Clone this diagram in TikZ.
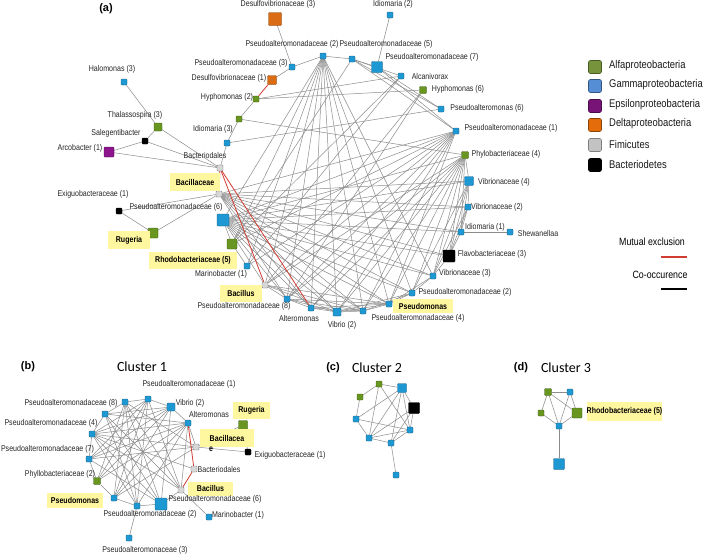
\documentclass[tikz,border=0pt]{standalone}
\usepackage{fontspec}
\setmainfont{Liberation Sans}
\newfontfamily\nf{Liberation Sans}[FakeStretch=0.84]
\newfontfamily\cf{Carlito}
\pgfdeclarelayer{bg}
\pgfsetlayers{bg,main}
\definecolor{cblue}{RGB}{30,152,210}
\definecolor{cbluedk}{RGB}{25,95,135}
\definecolor{cgreen}{RGB}{104,150,32}
\definecolor{cgreendk}{RGB}{60,90,20}
\definecolor{corange}{RGB}{218,108,22}
\definecolor{cpurple}{RGB}{140,20,140}
\definecolor{cgrey}{RGB}{215,215,215}
\definecolor{cedge}{RGB}{140,140,140}
\definecolor{cred}{RGB}{210,60,50}
\definecolor{cyel}{RGB}{255,246,160}
\definecolor{lgreen}{RGB}{119,147,60}
\definecolor{lblue}{RGB}{85,142,213}
\definecolor{lpurple}{RGB}{120,20,120}
\definecolor{lorange}{RGB}{228,108,10}
\definecolor{lgrey}{RGB}{195,195,195}
\tikzset{
 nb/.style={rectangle, inner sep=0pt, minimum size=6pt, rounded corners=0.8pt, line width=0.4pt},
 nblue/.style={nb, fill=cblue, draw=cbluedk},
 ngreen/.style={nb, fill=cgreen, draw=cgreendk},
 norange/.style={nb, fill=corange, draw=corange!60!black},
 npurple/.style={nb, fill=cpurple, draw=cpurple!60!black},
 ngrey/.style={nb, fill=cgrey, draw=black!55},
 nblack/.style={nb, fill=black, draw=black},
 edg/.style={draw=cedge, line width=0.5pt},
 redg/.style={draw=cred, line width=0.8pt},
 lab/.style={font=\nf\fontsize{8.4}{9}\selectfont, inner sep=0pt, text=black!85},
 ybox/.style={fill=cyel, font=\nf\bfseries\fontsize{8.4}{9}\selectfont, inner sep=0pt, text=black},
 leg/.style={rectangle, minimum size=13pt, inner sep=0pt, rounded corners=2pt, line width=0.6pt},
 legt/.style={font=\nf\fontsize{11.2}{13}\selectfont, inner sep=0pt, anchor=west, text=black!90},
 ptitle/.style={font=\bfseries\fontsize{11}{12}\selectfont, inner sep=0pt},
 ctitle/.style={font=\cf\fontsize{14}{15}\selectfont, inner sep=0pt},
}
\begin{document}
\begin{tikzpicture}[x=1pt,y=-1pt]
\useasboundingbox (0,0) rectangle (709,554);
\begin{pgfonlayer}{bg}
\fill[white] (0,0) rectangle (709,554);
\end{pgfonlayer}

% ---------------- panel (a) nodes ----------------
\node[ptitle] (ta) at (106,9) {(a)};
\node[nblue] (aHal) at (124,82) {};
\node[ngreen, minimum size=8pt] (aTha) at (158,127) {};
\node[nblack] (aSal) at (145,141) {};
\node[npurple, minimum size=10pt] (aArc) at (109,152) {};
\node[ngrey] (aBacd) at (220,168) {};
\node[nblue] (aIdi3) at (227,143) {};
\node[ngreen] (aGr) at (239,119) {};
\node[ngreen] (aHy2) at (256,99) {};
\node[norange, minimum size=9pt] (aDe1) at (272,80) {};
\node[nblue] (aP3) at (292,67) {};
\node[norange, minimum size=13pt] (aDe3) at (275,19) {};
\node[nblue] (aP2) at (323,56) {};
\node[nblue] (aN5) at (352,59) {};
\node[nblue, minimum size=11pt] (aP7) at (377,67) {};
\node[nblue] (aIdi2) at (390,15) {};
\node[nblue] (aAlc) at (401,76) {};
\node[ngreen, minimum size=7pt] (aHy6) at (423,90) {};
\node[nblue] (aPs6) at (441,109) {};
\node[nblue] (aP1) at (456,131) {};
\node[ngreen, minimum size=7pt] (aPhy) at (465,155) {};
\node[nblue, minimum size=9pt] (aVi4) at (469,181) {};
\node[nblue] (aVi2) at (468,207) {};
\node[nblue] (aIdi1) at (461,232) {};
\node[nblue] (aShe) at (510,232) {};
\node[nblack, minimum size=12pt] (aFla) at (449,256) {};
\node[nblue] (aVi3) at (433,276) {};
\node[nblue] (aPa2) at (412,293) {};
\node[nblue] (aPsm) at (389,304) {};
\node[nblue] (aN4) at (363,311) {};
\node[nblue, minimum size=8pt] (aVib) at (337,312) {};
\node[nblue] (aAlt) at (311,308) {};
\node[nblue] (aP8) at (287,299) {};
\node[ngrey] (aBac) at (265,285) {};
\node[nblue] (aMar) at (247,266) {};
\node[ngreen, minimum size=10pt] (aRho) at (232,244) {};
\node[nblue, minimum size=12pt] (aP6) at (223,220) {};
\node[ngrey] (aBcc) at (219,194) {};
\node[nblack] (aExi) at (119,211) {};
\node[ngreen, minimum size=10pt] (aRug) at (153,233) {};

% labels (a)
\node[lab] (laHal) at (112,69) {Halomonas (3)};
\node[lab] (laTha) at (135,115) {Thalassospira (3)};
\node[lab] (laSal) at (116,133) {Salegentibacter};
\node[lab] (laArc) at (80,148) {Arcobacter (1)};
\node[lab] (laBacd) at (205,155) {Bacteriodales};
\node[lab] (laIdi3) at (213,129) {Idiomaria (3)};
\node[lab] (laHy2) at (227,97) {Hyphomonas (2)};
\node[lab] (laDe1) at (229,78) {Desulfovibrionaceae (1)};
\node[lab] (laP3) at (241,63) {Pseudoalteromonadaceae (3)};
\node[lab] (laDe3) at (278,4) {Desulfovibrionaceae (3)};
\node[lab] (laP2) at (292,44) {Pseudoalteromonadaceae (2)};
\node[lab] (laN5) at (386,44) {Pseudoalteromonadaceae (5)};
\node[lab] (laIdi2) at (393,4) {Idiomaria (2)};
\node[lab] (laP7) at (432,57) {Pseudoalteromonadaceae (7)};
\node[lab] (laAlc) at (430,76) {Alcanivorax};
\node[lab] (laHy6) at (458,89) {Hyphomonas (6)};
\node[lab] (laPs6) at (487,108) {Pseudoalteromonas (6)};
\node[lab] (laP1) at (511,128) {Pseudoalteromonadaceae (1)};
\node[lab] (laPhy) at (506,154) {Phylobacteriaceae (4)};
\node[lab] (laVi4) at (504,182) {Vibrionaceae (4)};
\node[lab] (laVi2) at (497,207) {Vibrionaceae (2)};
\node[lab] (laIdi1) at (485,227) {Idiomaria (1)};
\node[lab] (laShe) at (538,233) {Shewanellaa};
\node[lab] (laFla) at (492,254) {Flavobacteriaceae (3)};
\node[lab] (laVi3) at (465,273) {Vibrionaceae (3)};
\node[lab] (laPa2) at (465,292) {Pseudoalteromonadaceae (2)};
\node[ybox, minimum width=60pt, minimum height=14pt] (laPsm) at (423,306) {Pseudomonas};
\node[lab] (laN4) at (418,318) {Pseudoalteromonadaceae (4)};
\node[lab] (laVib) at (342,325) {Vibrio (2)};
\node[lab] (laAlt) at (299,318) {Alteromonas};
\node[lab] (laP8) at (244,306) {Pseudoalteromonadaceae (8)};
\node[ybox, minimum width=42pt, minimum height=17pt] (laBac) at (241,293) {Bacillus};
\node[lab] (laMar) at (221,274) {Marinobacter (1)};
\node[ybox, minimum width=88pt, minimum height=17pt] (laRho) at (193,260.5) {Rhodobacteriaceae (5)};
\node[ybox, minimum width=42pt, minimum height=18pt] (laRug) at (129,240) {Rugeria};
\node[lab] (laExi) at (93,194) {Exiguobacteraceae (1)};
\node[lab] (laP6) at (176,207) {Pseudoalteromonadaceae (6)};
\node[ybox, minimum width=50pt, minimum height=18pt] (laBcc) at (195,182) {Bacillaceae};

% edges (a)
\begin{pgfonlayer}{bg}
\foreach \u/\v in {aDe3/aP3, aIdi2/aP7, aIdi1/aShe, aHal/aTha, aTha/aSal, aTha/aBacd, aSal/aArc,
  aSal/aBacd, aArc/aBacd, aExi/aRug, aExi/aBcc, aRug/aBcc, aP3/aDe1,
  aP3/aP2, aP2/aN5, aN5/aP7, aN5/aAlc, aN5/aPs6, aN5/aP1, aP7/aPs6, aP7/aP1, aHy2/aGr, aGr/aIdi3,
  aIdi3/aBacd, aHy2/aAlc, aHy2/aHy6, aIdi3/aPs6, aGr/aPhy, aN5/aRho, aAlc/aMar, aAlc/aRho, aHy6/aBac, aHy6/aP8,
  aVi4/aVi2, aVi4/aIdi1, aVi4/aFla, aVi4/aVi3, aVi4/aPa2, aVi2/aIdi1, aVi2/aFla, aVi2/aVi3,
  aIdi1/aFla, aFla/aVi3, aVi3/aPa2, aPa2/aPsm, aVi3/aPsm, aPa2/aN4, aPa2/aVib,
  aBac/aP8, aBac/aVib, aBac/aN4, aBac/aPsm, aP8/aAlt, aP8/aVib, aP8/aN4, aP8/aPsm, aAlt/aVib,
  aAlt/aN4, aAlt/aPsm, aVib/aN4, aVib/aPsm, aN4/aPsm, aMar/aRho, aRho/aP6, aBcc/aAlt}
  \draw[edg] (\u) -- (\v);
\foreach \v in {aP6, aRho, aMar, aBac, aP8, aAlt, aVib, aN4, aPsm, aPa2, aVi3}
  \draw[edg] (aP2) -- (\v);
\foreach \v in {aBcc, aP6, aRho, aMar, aBac, aP8, aAlt, aVib, aN4, aPsm}
  \draw[edg] (aP1) -- (\v);
\foreach \v in {aP6, aBac, aP8, aAlt, aVib, aN4, aPsm, aPa2, aVi3, aFla, aVi4, aIdi1}
  \draw[edg] (aPhy) -- (\v);
\foreach \v in {aVi4, aVi2, aIdi1, aFla, aVi3, aPa2, aPsm, aN4, aVib, aP8}
  \draw[edg] (aBcc) -- (\v);
\foreach \v in {aVi4, aVi2, aIdi1, aFla, aVi3, aPa2, aPsm, aN4, aVib, aAlt, aP8, aBac}
  \draw[edg] (aP6) -- (\v);
\foreach \u/\v in {aDe1/aHy2, aBacd/aBcc, aBacd/aBac, aBacd/aAlt}
  \draw[redg] (\u) -- (\v);
\end{pgfonlayer}

% ---------------- legend ----------------
\node[leg, fill=lgreen, draw=lgreen!60!black] (lg1) at (595,67) {};
\node[leg, fill=lblue, draw=lblue!60!black] (lg2) at (595,86) {};
\node[leg, fill=lpurple, draw=lpurple!60!black] (lg3) at (595,106) {};
\node[leg, fill=lorange, draw=lorange!60!black] (lg4) at (595,125) {};
\node[leg, fill=lgrey, draw=black!50] (lg5) at (595,145) {};
\node[leg, fill=black, draw=black] (lg6) at (595,165) {};
\node[legt] (lt1) at (609,66) {Alfaproteobacteria};
\node[legt] (lt2) at (609,85) {Gammaproteobacteria};
\node[legt] (lt3) at (609,105) {Epsilonproteobacteria};
\node[legt] (lt4) at (609,124) {Deltaproteobacteria};
\node[legt] (lt5) at (609,144) {Fimicutes};
\node[legt] (lt6) at (609,164) {Bacteriodetes};
\node[font=\nf\fontsize{10.5}{12}\selectfont, inner sep=0pt] (lme) at (652,242) {Mutual exclusion};
\node[font=\nf\fontsize{10.5}{12}\selectfont, inner sep=0pt] (lco) at (660,275) {Co-occurence};
\coordinate (r1) at (661,257); \coordinate (r2) at (687,257);
\coordinate (k1) at (661,289); \coordinate (k2) at (687,289);
\draw[cred, line width=1.2pt] (r1) -- (r2);
\draw[black, line width=1.2pt] (k1) -- (k2);

% ---------------- panel (b) ----------------
\node[ptitle] (tb) at (28,367) {(b)};
\node[ctitle] (cb) at (142,367) {Cluster 1};
\node[nblue] (bP1) at (148,399) {};
\node[nblue, minimum size=8pt] (bVib) at (171,407) {};
\node[nblue] (bAlt) at (188,423) {};
\node[ngrey] (bBcc) at (196,447) {};
\node[ngrey] (bBcd) at (194,469) {};
\node[ngrey] (bBac) at (181,490) {};
\node[nblue, minimum size=12pt] (bP6) at (161,504) {};
\node[nblue] (bPa2) at (137,506) {};
\node[nblue] (bPsm) at (114,498) {};
\node[ngreen, minimum size=7pt] (bPhy) at (97,481) {};
\node[nblue] (bP7) at (89,459) {};
\node[nblue] (bP4) at (92,434) {};
\node[nblue] (bN) at (105,414) {};
\node[nblue] (bP8) at (125,402) {};
\node[ngreen, minimum size=9pt] (bRug) at (243,425) {};
\node[nblack] (bExi) at (248,452) {};
\node[nblue] (bMar) at (209,517) {};
\node[nblue] (bP3) at (129,538) {};

\node[lab] (lbP1) at (189,384) {Pseudoalteromonadaceae (1)};
\node[lab] (lbP8) at (71,403) {Pseudoalteromonadaceae (8)};
\node[lab] (lbVib) at (190,403) {Vibrio (2)};
\node[lab] (lbP4) at (51,423) {Pseudoalteromonadaceae (4)};
\node[lab] (lbAlt) at (209,414) {Alteromonas};
\node[ybox, minimum width=37pt, minimum height=17pt] (lbRug) at (251.5,410.5) {Rugeria};
\node[lab] (lbP7) at (47.5,449) {Pseudoalteromonadaceae (7)};
\node[ybox, minimum width=54pt, minimum height=18pt] (lbBcc) at (227,438) {Bacillacea};
\node[font=\nf\bfseries\fontsize{8.4}{9}\selectfont, inner sep=0pt] (lbBcce) at (211,449) {e};
\node[lab] (lbExi) at (290,455) {Exiguobacteraceae (1)};
\node[lab] (lbBcd) at (219,469) {Bacteriodales};
\node[lab] (lbPhy) at (60,474) {Phyllobacteriaceae (2)};
\node[ybox, minimum width=45pt, minimum height=14pt] (lbBac) at (210.5,488.5) {Bacillus};
\node[ybox, minimum width=56pt, minimum height=15pt] (lbPsm) at (75,500.5) {Pseudomonas};
\node[lab] (lbP6) at (215,499) {Pseudoalteromonadaceae (6)};
\node[lab] (lbPa2) at (150,514) {Pseudoalteromonadaceae (2)};
\node[lab] (lbMar) at (238,515) {Marinobacter (1)};
\node[lab] (lbP3) at (145,550) {Pseudoalteromonaceae (3)};

\begin{pgfonlayer}{bg}
\foreach \u/\v in {bP1/bVib, bVib/bAlt, bAlt/bBcc, bBac/bP6, bP6/bPa2, bPa2/bPsm, bPsm/bPhy,
  bPhy/bP7, bP7/bP4, bP4/bN, bN/bP8, bP8/bP1,
  bP1/bBac, bP1/bPsm, bP1/bP4, bP1/bP7, bP1/bPa2, bVib/bPsm, bVib/bP4, bVib/bP6, bVib/bPhy,
  bAlt/bP4, bAlt/bN, bAlt/bPsm, bAlt/bPa2, bAlt/bBac, bBcc/bP4, bBcc/bP7, bBcc/bP8,
  bBac/bP4, bBac/bP8, bBac/bN, bP6/bP4, bP6/bN, bP6/bP8, bPa2/bN, bPa2/bP8, bPa2/bP4,
  bPsm/bP8, bPsm/bBcc, bPhy/bP8, bPhy/bAlt, bP7/bVib, bP7/bP6, bN/bVib, bP4/bBcd,
  bBac/bMar, bPa2/bP3, bBcc/bRug, bBcc/bExi, bRug/bExi, bP7/bAlt, bPhy/bP1}
  \draw[edg] (\u) -- (\v);
\foreach \u/\v in {bAlt/bBcd, bBcd/bBac}
  \draw[redg] (\u) -- (\v);
\end{pgfonlayer}

% ---------------- panel (c) ----------------
\node[ptitle] (tc) at (333,368) {(c)};
\node[ctitle] (cc) at (377,368) {Cluster 2};
\node[ngreen] (cG1) at (360,397) {};
\node[ngreen] (cG2) at (379,384) {};
\node[nblue, minimum size=9pt] (cB1) at (402,388) {};
\node[nblack, minimum size=11pt] (cK) at (414,408) {};
\node[nblue] (cB2) at (356,419) {};
\node[nblue] (cB3) at (410,430) {};
\node[nblue] (cB4) at (369,438) {};
\node[nblue] (cB5) at (391,443) {};
\node[nblue] (cB6) at (396,475) {};
\begin{pgfonlayer}{bg}
\foreach \u/\v in {cG1/cG2, cG1/cB2, cG2/cB1, cG2/cB4, cG2/cB3, cB1/cK, cB1/cB2, cB1/cB4,
  cB1/cB5, cB1/cB3, cK/cB3, cK/cB4, cK/cB5, cB2/cB3, cB2/cB4, cB4/cB5, cB4/cB3, cB5/cB3, cB5/cB6}
  \draw[edg] (\u) -- (\v);
\end{pgfonlayer}

% ---------------- panel (d) ----------------
\node[ptitle] (td) at (521,368) {(d)};
\node[ctitle] (cd) at (566,368) {Cluster 3};
\node[ngreen, minimum size=7pt] (dG1) at (548,392) {};
\node[nblue] (dB1) at (570,392) {};
\node[ngreen] (dG2) at (541,413) {};
\node[ngreen, minimum size=10pt] (dG3) at (577,413) {};
\node[nblue] (dB2) at (559,426) {};
\node[nblue, minimum size=11pt] (dB3) at (559,464) {};
\node[ybox, minimum width=73pt, minimum height=19pt] (ldRho) at (624.5,411.5) {Rhodobacteriaceae (5)};
\begin{pgfonlayer}{bg}
\foreach \u/\v in {dG1/dB1, dG1/dG2, dG1/dB2, dG1/dG3, dB1/dG3, dB1/dB2, dG2/dB2, dG3/dB2, dB2/dB3}
  \draw[edg] (\u) -- (\v);
\end{pgfonlayer}
\end{tikzpicture}
\end{document}
